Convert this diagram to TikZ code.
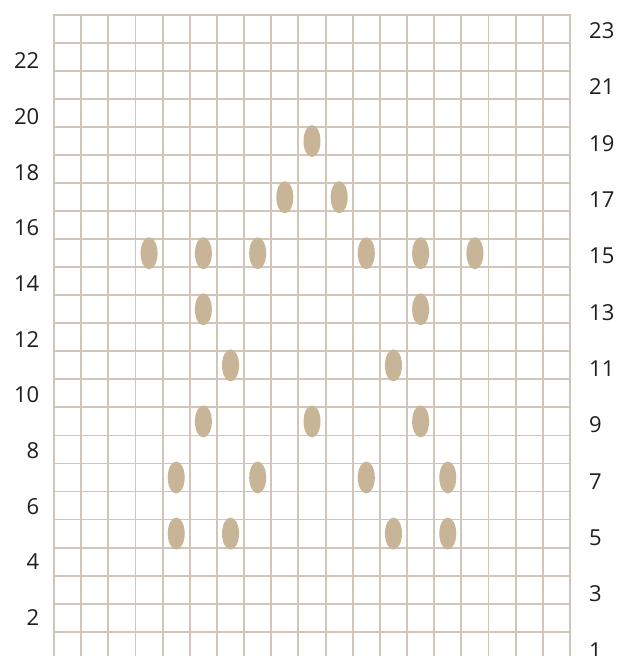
\documentclass[tikz,border=0pt]{standalone}
\usepackage{fontspec}
\setmainfont{Open Sans}
\usetikzlibrary{shapes.geometric}
\definecolor{gridc}{HTML}{D0C5B8}
\definecolor{dotc}{HTML}{C8B497}
\definecolor{txtc}{HTML}{1E1E1E}
\begin{document}
\begin{tikzpicture}[x=1pt,y=-1pt,
  gridline/.style={draw=gridc,line width=1.9pt,line cap=rect},
  stitch/.style={ellipse,fill=dotc,minimum width=17pt,minimum height=32pt,inner sep=0pt},
  rowlabel/.style={text=txtc,font=\fontsize{22}{22}\selectfont,inner sep=0pt}]
\clip (0,0) rectangle (620,656);
\fill[white] (0,0) rectangle (620,656);
\def\cw{27.158}
\def\rh{28.03}
\foreach \i in {0,...,19} \draw[gridline] ({54+\i*\cw},15) -- ({54+\i*\cw},680);
\foreach \j in {0,...,23} \draw[gridline] (54,{15+\j*\rh}) -- (570,{15+\j*\rh});
\foreach \c/\r [count=\k] in {10/19, 9/17, 11/17, 4/15, 6/15, 8/15, 12/15, 14/15, 16/15,
  6/13, 14/13, 7/11, 13/11, 6/9, 10/9, 14/9, 5/7, 8/7, 12/7, 15/7, 5/5, 7/5, 13/5, 15/5}
  \node[stitch] (s\k) at ({54+(\c-0.5)*\cw},{15+(23-\r+0.5)*\rh}) {};
\foreach \r in {2,4,...,22}
  \node[rowlabel,anchor=east] (L\r) at (39.5,{61+(22-\r)*27.83}) {\r};
\foreach \r in {1,3,...,23}
  \node[rowlabel,anchor=west] (R\r) at (589,{30.7+(23-\r)*28.16}) {\r};
\end{tikzpicture}
\end{document}
